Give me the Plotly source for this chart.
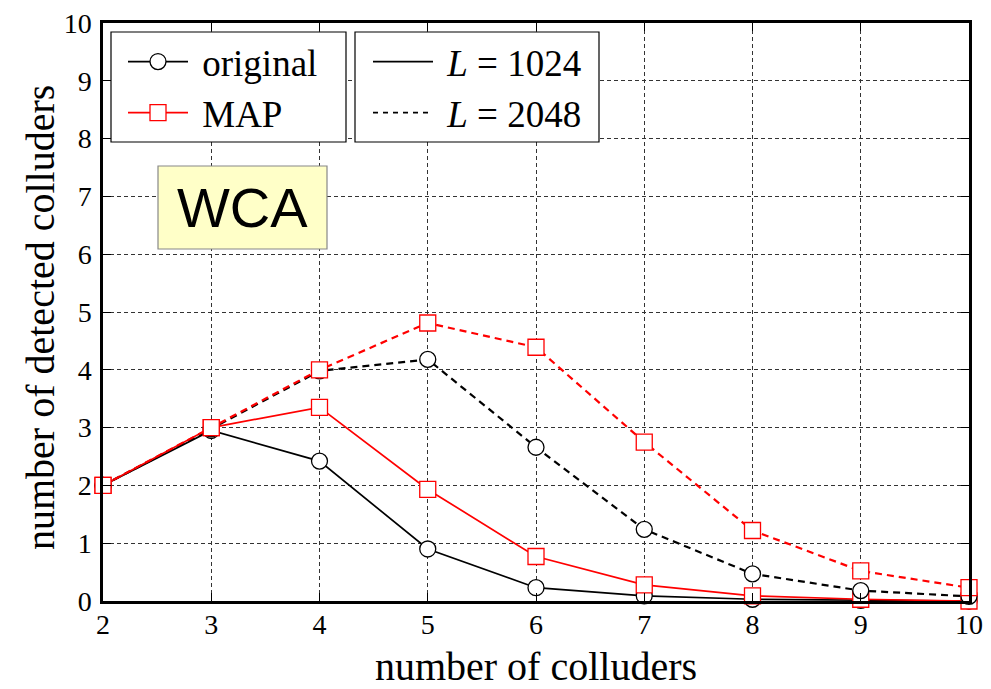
import plotly.graph_objects as go

# Number of colluders (x) and number of detected colluders for each detector / code length
colluders = [2, 3, 4, 5, 6, 7, 8, 9, 10]
original_1024 = [2.0, 2.95, 2.42, 0.90, 0.23, 0.09, 0.03, 0.01, 0.0]
map_1024 = [2.0, 3.0, 3.35, 1.93, 0.77, 0.28, 0.09, 0.03, 0.0]
original_2048 = [2.0, 2.98, 3.98, 4.18, 2.66, 1.24, 0.47, 0.18, 0.08]
map_2048 = [2.0, 3.0, 4.0, 4.81, 4.39, 2.75, 1.22, 0.52, 0.23]

x_ticks = [2, 3, 4, 5, 6, 7, 8, 9, 10]
y_ticks = [0, 1, 2, 3, 4, 5, 6, 7, 8, 9, 10]

W, H = 991, 689
ML, MR, MT, MB = 103, 22, 23, 88
PW, PH = W - ML - MR, H - MT - MB

SERIF = "Liberation Serif"


def px(xp):
    return (xp - ML) / PW


def py(yp):
    return (H - MB - yp) / PH


fig = go.Figure()

series = [
    (original_1024, "black", "circle", "solid"),
    (map_1024, "red", "square", "solid"),
    (original_2048, "black", "circle", "dash"),
    (map_2048, "red", "square", "dash"),
]
for vals, col, sym, dash in series:
    fig.add_trace(go.Scatter(
        x=colluders, y=vals, mode="lines+markers",
        line=dict(color=col, width=2.2 if dash == "dash" else 1.7,
                  dash="7px,5px" if dash == "dash" else None),
        marker=dict(symbol=sym, size=16, color="white", line=dict(color=col, width=1.3)),
        cliponaxis=False, showlegend=False,
    ))

# Legend entries: detector type
fig.add_trace(go.Scatter(x=[None], y=[None], mode="lines+markers", name=" original",
                         line=dict(color="black", width=1.7),
                         marker=dict(symbol="circle", size=16, color="white", line=dict(color="black", width=1.3)),
                         legend="legend"))
fig.add_trace(go.Scatter(x=[None], y=[None], mode="lines+markers", name=" MAP",
                         line=dict(color="red", width=1.7),
                         marker=dict(symbol="square", size=16, color="white", line=dict(color="red", width=1.3)),
                         legend="legend"))
# Legend entries: code length
fig.add_trace(go.Scatter(x=[None], y=[None], mode="lines", name=" <i>L</i> = 1024",
                         line=dict(color="black", width=1.7), legend="legend2"))
fig.add_trace(go.Scatter(x=[None], y=[None], mode="lines", name=" <i>L</i> = 2048",
                         line=dict(color="black", width=1.7, dash="5px,5px"), legend="legend2"))

legend_style = dict(
    bgcolor="rgba(0,0,0,0)", borderwidth=0,
    font=dict(family=SERIF, size=37, color="black"),
    itemwidth=60, xanchor="left", yanchor="top", tracegroupgap=0,
)

shapes = [
    # legend frames
    dict(type="rect", xref="paper", yref="paper", x0=px(111), x1=px(346), y0=py(142), y1=py(32),
         fillcolor="white", line=dict(color="black", width=1.2), layer="above"),
    dict(type="rect", xref="paper", yref="paper", x0=px(355), x1=px(599), y0=py(142), y1=py(32),
         fillcolor="white", line=dict(color="black", width=1.2), layer="above"),
    # label box
    dict(type="rect", xref="paper", yref="paper", x0=px(158), x1=px(327), y0=py(249), y1=py(166),
         fillcolor="#ffffc8", line=dict(color="#888888", width=1.2), layer="above"),
]

annotations = [
    dict(text="WCA", xref="paper", yref="paper", x=px(242.5), y=py(207.5),
         showarrow=False, xanchor="center", yanchor="middle",
         font=dict(family="Liberation Sans", size=56, color="black")),
    # y-axis title
    dict(text="number of detected colluders", xref="paper", yref="paper",
         x=px(41), y=py(318), textangle=-90, showarrow=False,
         xanchor="center", yanchor="middle",
         font=dict(family=SERIF, size=40, color="black")),
]

fig.update_layout(
    width=W, height=H,
    margin=dict(l=ML, r=MR, t=MT, b=MB, pad=0, autoexpand=False),
    paper_bgcolor="white", plot_bgcolor="white",
    font=dict(family=SERIF, color="black"),
    shapes=shapes,
    annotations=annotations,
    legend=dict(x=px(123), y=py(31), **legend_style),
    legend2=dict(x=px(368), y=py(31), **legend_style),
    xaxis=dict(
        range=[2, 10], tickmode="array", tickvals=x_ticks, ticktext=[str(v) for v in x_ticks],
        showline=True, linecolor="black", linewidth=2.5, mirror="ticks",
        ticks="inside", ticklen=8, tickcolor="black", tickwidth=1,
        showgrid=True, gridcolor="#333333", gridwidth=1, griddash="4px,3px",
        zeroline=False, tickfont=dict(family=SERIF, size=28), automargin=True,
        ticklabelstandoff=-3,
        title=dict(text="number of colluders", font=dict(family=SERIF, size=40), standoff=16),
    ),
    yaxis=dict(
        range=[0, 10], tickmode="array", tickvals=y_ticks, ticktext=[str(v) for v in y_ticks],
        showline=True, linecolor="black", linewidth=2.5, mirror="ticks",
        ticks="inside", ticklen=8, tickcolor="black", tickwidth=1,
        showgrid=True, gridcolor="#333333", gridwidth=1, griddash="4px,3px",
        zeroline=False, tickfont=dict(family=SERIF, size=28), automargin=True,
        ticklabelstandoff=3,
    ),
)

fig.write_html("out.html")
